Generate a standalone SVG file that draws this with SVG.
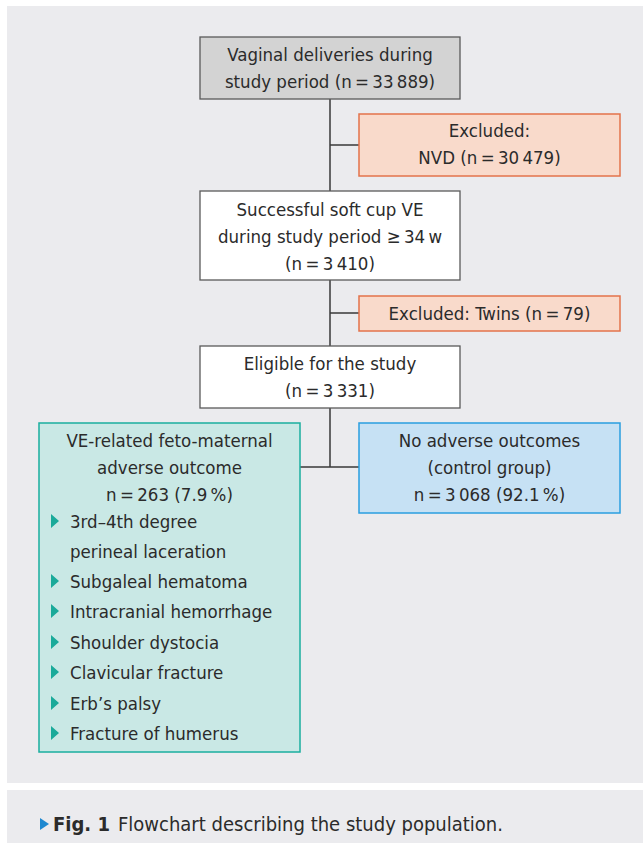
<svg xmlns="http://www.w3.org/2000/svg" width="643" height="843" viewBox="0 0 643 843">
<style>
text{font-family:"Liberation Sans Narrow","DejaVu Sans Condensed","Liberation Sans",sans-serif;font-size:18.5px;fill:#2b2b2b}
.c{text-anchor:middle}
.gray{fill:#d3d3d3;stroke:#5a5a5a;stroke-width:1.3}
.white{fill:#ffffff;stroke:#5a5a5a;stroke-width:1.3}
.ex{fill:#f9dacb;stroke:#e3734b;stroke-width:1.5}
.green{fill:#c9e8e5;stroke:#1aaf9f;stroke-width:1.5}
.blue{fill:#c6e1f4;stroke:#2a9ee0;stroke-width:1.5}
.ln{stroke:#3a3a3a;stroke-width:1.5;fill:none}
.tri{fill:#1aaa9a}
</style>
<rect x="7" y="6" width="636" height="777" fill="#ebebee"/>
<rect x="7" y="790" width="636" height="53" fill="#ebebee"/>
<g id="connectors">
<path class="ln" d="M330 99V408M330 145H359M330 313H359M330 408V467M300 467H359"/>
</g>
<g id="n1"><rect class="gray" x="200" y="37" width="260" height="62"/>
<text class="c" x="330" y="61">Vaginal deliveries during</text>
<text class="c" x="330" y="88">study period (n&#8201;=&#8201;33&#8201;889)</text></g>
<g id="ex1"><rect class="ex" x="359" y="114" width="261" height="62"/>
<text class="c" x="489.5" y="137">Excluded:</text>
<text class="c" x="489.5" y="164">NVD (n&#8201;=&#8201;30&#8201;479)</text></g>
<g id="n2"><rect class="white" x="200" y="191" width="260" height="89"/>
<text class="c" x="330" y="216">Successful soft cup VE</text>
<text class="c" x="330" y="243">during study period ≥&#8201;34&#8201;w</text>
<text class="c" x="330" y="270">(n&#8201;=&#8201;3&#8201;410)</text></g>
<g id="ex2"><rect class="ex" x="359" y="296" width="261" height="35"/>
<text class="c" x="489.5" y="320">Excluded: Twins (n&#8201;=&#8201;79)</text></g>
<g id="n3"><rect class="white" x="200" y="346" width="260" height="62"/>
<text class="c" x="330" y="370">Eligible for the study</text>
<text class="c" x="330" y="397">(n&#8201;=&#8201;3&#8201;331)</text></g>
<g id="n4"><rect class="green" x="39" y="423" width="261" height="329"/>
<text class="c" x="169.5" y="447">VE-related feto-maternal</text>
<text class="c" x="169.5" y="474">adverse outcome</text>
<text class="c" x="169.5" y="501">n&#8201;=&#8201;263 (7.9&#8201;%)</text>
<path class="tri" d="M51 514l8 7-8 7zM51 574l8 7-8 7zM51 604l8 7-8 7zM51 635l8 7-8 7zM51 665l8 7-8 7zM51 696l8 7-8 7zM51 726l8 7-8 7z"/>
<text x="70" y="528">3rd–4th degree</text>
<text x="70" y="558">perineal laceration</text>
<text x="70" y="588">Subgaleal hematoma</text>
<text x="70" y="618">Intracranial hemorrhage</text>
<text x="70" y="649">Shoulder dystocia</text>
<text x="70" y="679">Clavicular fracture</text>
<text x="70" y="710">Erb’s palsy</text>
<text x="70" y="740">Fracture of humerus</text></g>
<g id="n5"><rect class="blue" x="359" y="423" width="261" height="90"/>
<text class="c" x="489.5" y="447">No adverse outcomes</text>
<text class="c" x="489.5" y="474">(control group)</text>
<text class="c" x="489.5" y="501">n&#8201;=&#8201;3&#8201;068 (92.1&#8201;%)</text></g>
<g id="caption">
<path d="M40 818l9 6-9 6z" fill="#1e88d0"/>
<text x="53" y="831" style="font-size:20px"><tspan style="font-weight:bold">Fig. 1</tspan><tspan dx="8">Flowchart describing the study population.</tspan></text></g>
</svg>
